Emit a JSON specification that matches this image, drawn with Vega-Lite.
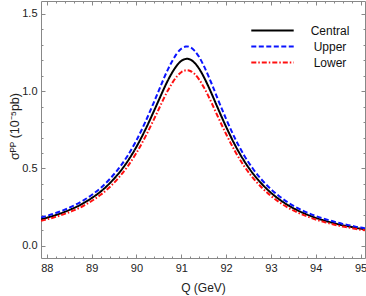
{
  "$schema": "https://vega.github.io/schema/vega-lite/v6.json",
  "width": 324,
  "height": 257,
  "autosize": {"type": "none"},
  "padding": {"left": 41, "top": 1, "right": 1, "bottom": 38},
  "background": "white",
  "config": {
    "view": {"stroke": "#888", "strokeWidth": 1},
    "axis": {
      "grid": false,
      "domain": false,
      "tickColor": "#888",
      "labelFont": "Liberation Sans",
      "labelFontSize": 11,
      "labelColor": "#222",
      "titleFont": "Liberation Sans",
      "titleFontSize": 11,
      "titleFontWeight": "normal",
      "titleColor": "#222"
    },
    "legend": {
      "labelFont": "Liberation Sans",
      "labelFontSize": 12,
      "labelColor": "#111"
    }
  },
  "data": {
    "values": [
      {"Q": 87.87, "Central": 0.171, "Upper": 0.182, "Lower": 0.161},
      {"Q": 88.0, "Central": 0.181, "Upper": 0.193, "Lower": 0.170},
      {"Q": 88.2, "Central": 0.198, "Upper": 0.211, "Lower": 0.186},
      {"Q": 88.4, "Central": 0.219, "Upper": 0.233, "Lower": 0.206},
      {"Q": 88.6, "Central": 0.243, "Upper": 0.259, "Lower": 0.228},
      {"Q": 88.8, "Central": 0.272, "Upper": 0.290, "Lower": 0.255},
      {"Q": 89.0, "Central": 0.308, "Upper": 0.328, "Lower": 0.289},
      {"Q": 89.2, "Central": 0.350, "Upper": 0.373, "Lower": 0.329},
      {"Q": 89.4, "Central": 0.403, "Upper": 0.430, "Lower": 0.378},
      {"Q": 89.6, "Central": 0.467, "Upper": 0.498, "Lower": 0.439},
      {"Q": 89.8, "Central": 0.545, "Upper": 0.581, "Lower": 0.512},
      {"Q": 90.0, "Central": 0.640, "Upper": 0.682, "Lower": 0.601},
      {"Q": 90.2, "Central": 0.752, "Upper": 0.802, "Lower": 0.706},
      {"Q": 90.4, "Central": 0.878, "Upper": 0.936, "Lower": 0.824},
      {"Q": 90.5, "Central": 0.943, "Upper": 1.005, "Lower": 0.885},
      {"Q": 90.6, "Central": 1.008, "Upper": 1.075, "Lower": 0.947},
      {"Q": 90.7, "Central": 1.069, "Upper": 1.140, "Lower": 1.004},
      {"Q": 90.8, "Central": 1.122, "Upper": 1.196, "Lower": 1.054},
      {"Q": 90.9, "Central": 1.166, "Upper": 1.243, "Lower": 1.095},
      {"Q": 91.0, "Central": 1.196, "Upper": 1.275, "Lower": 1.123},
      {"Q": 91.1, "Central": 1.209, "Upper": 1.289, "Lower": 1.135},
      {"Q": 91.13, "Central": 1.210, "Upper": 1.290, "Lower": 1.136},
      {"Q": 91.2, "Central": 1.205, "Upper": 1.285, "Lower": 1.131},
      {"Q": 91.3, "Central": 1.183, "Upper": 1.261, "Lower": 1.111},
      {"Q": 91.4, "Central": 1.145, "Upper": 1.221, "Lower": 1.075},
      {"Q": 91.5, "Central": 1.094, "Upper": 1.166, "Lower": 1.027},
      {"Q": 91.6, "Central": 1.034, "Upper": 1.102, "Lower": 0.971},
      {"Q": 91.7, "Central": 0.969, "Upper": 1.033, "Lower": 0.910},
      {"Q": 91.8, "Central": 0.901, "Upper": 0.960, "Lower": 0.846},
      {"Q": 92.0, "Central": 0.770, "Upper": 0.821, "Lower": 0.723},
      {"Q": 92.2, "Central": 0.651, "Upper": 0.694, "Lower": 0.611},
      {"Q": 92.4, "Central": 0.550, "Upper": 0.586, "Lower": 0.516},
      {"Q": 92.6, "Central": 0.467, "Upper": 0.498, "Lower": 0.439},
      {"Q": 92.8, "Central": 0.399, "Upper": 0.425, "Lower": 0.375},
      {"Q": 93.0, "Central": 0.343, "Upper": 0.366, "Lower": 0.322},
      {"Q": 93.2, "Central": 0.297, "Upper": 0.317, "Lower": 0.279},
      {"Q": 93.4, "Central": 0.259, "Upper": 0.276, "Lower": 0.243},
      {"Q": 93.6, "Central": 0.228, "Upper": 0.243, "Lower": 0.214},
      {"Q": 93.8, "Central": 0.202, "Upper": 0.215, "Lower": 0.190},
      {"Q": 94.0, "Central": 0.180, "Upper": 0.192, "Lower": 0.169},
      {"Q": 94.2, "Central": 0.162, "Upper": 0.173, "Lower": 0.152},
      {"Q": 94.4, "Central": 0.146, "Upper": 0.156, "Lower": 0.137},
      {"Q": 94.6, "Central": 0.132, "Upper": 0.141, "Lower": 0.124},
      {"Q": 94.8, "Central": 0.121, "Upper": 0.129, "Lower": 0.114},
      {"Q": 95.0, "Central": 0.110, "Upper": 0.117, "Lower": 0.103},
      {"Q": 95.1, "Central": 0.106, "Upper": 0.113, "Lower": 0.100}
    ]
  },
  "transform": [
    {"fold": ["Central", "Upper", "Lower"], "as": ["series", "sigma"]}
  ],
  "layer": [
    {
      "mark": {"type": "line", "strokeWidth": 2, "interpolate": "monotone", "clip": true},
      "encoding": {
        "x": {
          "field": "Q", "type": "quantitative",
          "scale": {"domain": [87.87, 95.1], "nice": false, "zero": false},
          "axis": {
            "orient": "bottom", "title": "Q (GeV)",
            "values": [88, 89, 90, 91, 92, 93, 94, 95],
            "format": "d", "tickSize": -4, "labelPadding": 8,
            "labelFlush": false, "labelOverlap": false,
            "titleX": 162, "titleY": 29, "titleBaseline": "middle", "titleFontSize": 12
          }
        },
        "y": {
          "field": "sigma", "type": "quantitative",
          "scale": {"domain": [-0.08, 1.584], "nice": false, "zero": false},
          "axis": {
            "orient": "left", "title": "σᴾᴾ (10⁻⁵pb)",
            "values": [0, 0.5, 1.0, 1.5],
            "format": ".1f", "tickSize": -4, "labelPadding": 8,
            "labelFlush": false, "labelOverlap": false,
            "titleX": -27, "titleY": 125, "titleAngle": -90, "titleFontSize": 12.5,
            "titleBaseline": "middle", "titleAlign": "center"
          }
        },
        "color": {
          "field": "series", "type": "nominal",
          "scale": {"domain": ["Central", "Upper", "Lower"], "range": ["#000000", "#0a14ff", "#ff1010"]},
          "legend": {
            "title": null, "orient": "none", "legendX": 223, "legendY": 21,
            "symbolType": "M-3,0H3", "symbolSize": 200, "symbolStrokeWidth": 2,
            "labelOffset": 49, "labelAlign": "center", "rowPadding": 1, "padding": 0
          }
        },
        "strokeDash": {
          "field": "series", "type": "nominal",
          "scale": {"domain": ["Central", "Upper", "Lower"], "range": [[1, 0], [5, 2.5], [5, 2, 1.5, 2]]},
          "legend": null
        }
      }
    },
    {
      "mark": {"type": "line", "opacity": 0},
      "encoding": {
        "x": {
          "field": "Q", "type": "quantitative",
          "scale": {"domain": [87.87, 95.1], "nice": false, "zero": false},
          "axis": {
            "orient": "bottom", "title": null, "labels": false, "tickSize": -2,
            "values": [88.2, 88.4, 88.6, 88.8, 89.2, 89.4, 89.6, 89.8, 90.2, 90.4, 90.6, 90.8, 91.2, 91.4, 91.6, 91.8, 92.2, 92.4, 92.6, 92.8, 93.2, 93.4, 93.6, 93.8, 94.2, 94.4, 94.6, 94.8]
          }
        },
        "y": {
          "field": "sigma", "type": "quantitative",
          "scale": {"domain": [-0.08, 1.584], "nice": false, "zero": false},
          "axis": {
            "orient": "left", "title": null, "labels": false, "tickSize": -2,
            "values": [0.1, 0.2, 0.3, 0.4, 0.6, 0.7, 0.8, 0.9, 1.1, 1.2, 1.3, 1.4]
          }
        },
        "detail": {"field": "series"}
      }
    },
    {
      "mark": {"type": "line", "opacity": 0},
      "encoding": {
        "x": {
          "field": "Q", "type": "quantitative",
          "scale": {"domain": [87.87, 95.1], "nice": false, "zero": false},
          "axis": {
            "orient": "top", "title": null, "labels": false, "tickSize": -4,
            "values": [88, 89, 90, 91, 92, 93, 94, 95]
          }
        },
        "y": {
          "field": "sigma", "type": "quantitative",
          "scale": {"domain": [-0.08, 1.584], "nice": false, "zero": false},
          "axis": {
            "orient": "right", "title": null, "labels": false, "tickSize": -4,
            "values": [0, 0.5, 1.0, 1.5]
          }
        },
        "detail": {"field": "series"}
      }
    },
    {
      "mark": {"type": "line", "opacity": 0},
      "encoding": {
        "x": {
          "field": "Q", "type": "quantitative",
          "scale": {"domain": [87.87, 95.1], "nice": false, "zero": false},
          "axis": {
            "orient": "top", "title": null, "labels": false, "tickSize": -2,
            "values": [88.2, 88.4, 88.6, 88.8, 89.2, 89.4, 89.6, 89.8, 90.2, 90.4, 90.6, 90.8, 91.2, 91.4, 91.6, 91.8, 92.2, 92.4, 92.6, 92.8, 93.2, 93.4, 93.6, 93.8, 94.2, 94.4, 94.6, 94.8]
          }
        },
        "y": {
          "field": "sigma", "type": "quantitative",
          "scale": {"domain": [-0.08, 1.584], "nice": false, "zero": false},
          "axis": {
            "orient": "right", "title": null, "labels": false, "tickSize": -2,
            "values": [0.1, 0.2, 0.3, 0.4, 0.6, 0.7, 0.8, 0.9, 1.1, 1.2, 1.3, 1.4]
          }
        },
        "detail": {"field": "series"}
      }
    }
  ],
  "resolve": {"axis": {"x": "independent", "y": "independent"}}
}
